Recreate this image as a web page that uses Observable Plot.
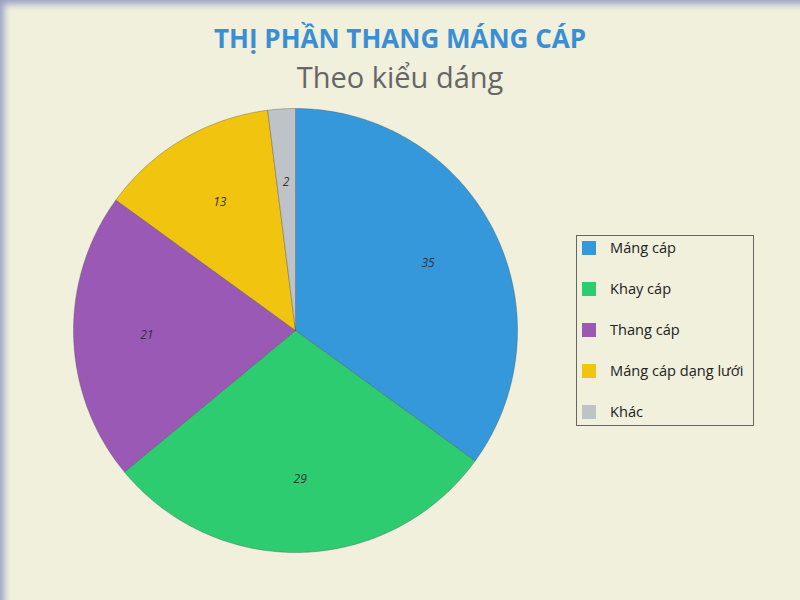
<!DOCTYPE html>
<html>
<head>
<meta charset="utf-8">
<script src="https://cdn.jsdelivr.net/npm/d3@7"></script>
<script src="https://cdn.jsdelivr.net/npm/@observablehq/plot@0.6"></script>
<style>
  html, body { margin: 0; padding: 0; }
  body { width: 800px; height: 600px; background: #f0f0dc; font-family: "Open Sans", sans-serif; overflow: hidden; }
  #frame { position: relative; width: 800px; height: 600px; box-shadow: inset 6px 6px 7px -2px #98a0c6; }
  #title { position: absolute; top: 18px; left: 0; width: 800px; text-align: center; font-weight: bold; font-size: 26px; color: #3a8fd4; line-height: 40px; }
  #subtitle { position: absolute; top: 57px; left: 0; width: 800px; text-align: center; font-size: 29px; color: #666; line-height: 40px; }
  #chart { position: absolute; top: 100px; left: 0; }
  #legend { position: absolute; left: 576px; top: 235px; width: 178px; height: 191px; border: 1px solid #666; box-sizing: border-box; }
  .item { position: absolute; left: 5px; height: 20px; font-size: 14.6px; color: #222; white-space: nowrap; line-height: 20px; }
  .sw { position: absolute; left: 0; top: 3px; width: 14px; height: 14px; }
  .lb { position: absolute; left: 28px; top: -1px; }
</style>
</head>
<body>
<div id="frame">
  <div id="title">THỊ PHẦN THANG MÁNG CÁP</div>
  <div id="subtitle">Theo kiểu dáng</div>
  <div id="chart"></div>
  <div id="legend"></div>
</div>
<script>
const categories = ["Máng cáp", "Khay cáp", "Thang cáp", "Máng cáp dạng lưới", "Khác"];
const values = [35, 29, 21, 13, 2];
const colors = ["#3498db", "#2ecc71", "#9b59b6", "#f1c40f", "#bdc3c7"];

const W = 800, H = 500, R = 222, cx = 295, cy = 230;

const arcs = d3.pie().sort(null).value(d => d.value)(categories.map((name, i) => ({name, value: values[i]})));

const slices = [];
for (const a of arcs) {
  const name = a.data.name;
  slices.push({name, x: 0, y: 0});
  const n = Math.max(4, Math.ceil((a.endAngle - a.startAngle) / 0.01));
  for (let k = 0; k <= n; k++) {
    const t = a.startAngle + (a.endAngle - a.startAngle) * k / n;
    slices.push({name, x: Math.sin(t), y: Math.cos(t)});
  }
  slices.push({name, x: 0, y: 0});
}
const labels = arcs.map(a => {
  const m = (a.startAngle + a.endAngle) / 2;
  return {name: a.data.name, value: a.data.value, x: 0.67 * Math.sin(m), y: 0.67 * Math.cos(m)};
});

const chart = Plot.plot({
  width: W, height: H,
  margin: 0,
  style: {background: "transparent", fontFamily: "Open Sans, sans-serif"},
  x: {domain: [-cx / R, (W - cx) / R], axis: null},
  y: {domain: [-(H - cy) / R, cy / R], axis: null},
  color: {domain: categories, range: colors},
  marks: [
    Plot.line(slices, {x: "x", y: "y", z: "name", fill: "name", stroke: "#4a4a4a", strokeOpacity: 0.35, strokeWidth: 1, curve: "linear"}),
    Plot.text(labels, {x: "x", y: "y", text: d => String(d.value), fontStyle: "italic", fontSize: 12, fill: "#333"})
  ]
});
document.getElementById("chart").appendChild(chart);

const legend = document.getElementById("legend");
categories.forEach((c, i) => {
  const it = document.createElement("div");
  it.className = "item";
  it.style.top = (2 + i * 41) + "px";
  it.innerHTML = `<span class="sw" style="background:${colors[i]}"></span><span class="lb">${c}</span>`;
  legend.appendChild(it);
});
</script>
</body>
</html>
